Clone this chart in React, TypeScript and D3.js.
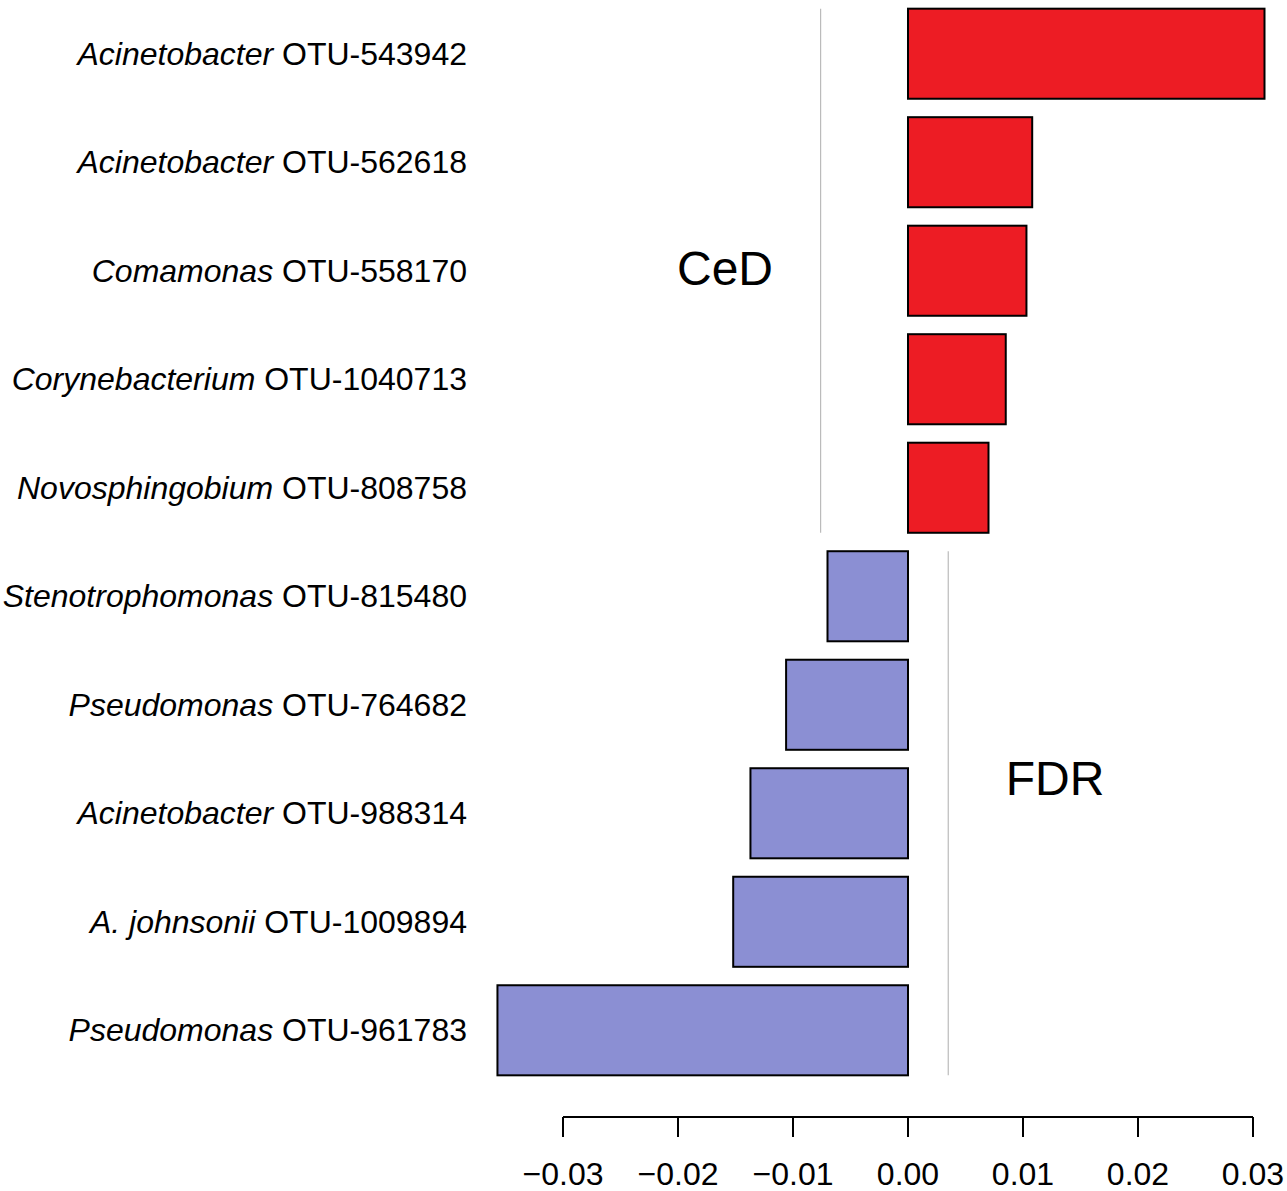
import { useRef, useEffect } from 'react';
import * as d3 from 'd3';

const genus = [
  'Acinetobacter', 'Acinetobacter', 'Comamonas', 'Corynebacterium', 'Novosphingobium',
  'Stenotrophomonas', 'Pseudomonas', 'Acinetobacter', 'A. johnsonii', 'Pseudomonas',
];
const otu = [
  'OTU-543942', 'OTU-562618', 'OTU-558170', 'OTU-1040713', 'OTU-808758',
  'OTU-815480', 'OTU-764682', 'OTU-988314', 'OTU-1009894', 'OTU-961783',
];
const values = [0.0310, 0.0108, 0.0103, 0.0085, 0.0070, -0.0070, -0.0106, -0.0137, -0.0152, -0.0357];
const ticks = [-0.03, -0.02, -0.01, 0, 0.01, 0.02, 0.03];
const cedLine = -0.0076;
const fdrLine = 0.0035;

export default function App() {
  const svgRef = useRef<SVGSVGElement>(null);

  useEffect(() => {
    if (!svgRef.current) return;
    const svg = d3.select(svgRef.current);
    svg.selectAll('*').remove();

    const x = d3.scaleLinear().domain([-0.03, 0.03]).range([563, 1253]);
    const idx = values.map((_, i) => i);
    const y = d3.scaleBand<number>().domain(idx).range([0, 1084]).paddingInner(0.17).paddingOuter(0.08);

    // threshold lines
    const nPos = values.filter((v) => v > 0).length;
    svg.append('line')
      .attr('x1', x(cedLine)).attr('x2', x(cedLine))
      .attr('y1', y(0)!).attr('y2', y(nPos - 1)! + y.bandwidth())
      .attr('stroke', '#bbb').attr('stroke-width', 1.2);
    svg.append('line')
      .attr('x1', x(fdrLine)).attr('x2', x(fdrLine))
      .attr('y1', y(nPos)!).attr('y2', y(values.length - 1)! + y.bandwidth())
      .attr('stroke', '#bbb').attr('stroke-width', 1.2);

    // bars
    svg.append('g').selectAll('rect')
      .data(idx)
      .join('rect')
      .attr('x', (i) => x(Math.min(0, values[i])))
      .attr('y', (i) => y(i)!)
      .attr('width', (i) => Math.abs(x(values[i]) - x(0)))
      .attr('height', y.bandwidth())
      .attr('fill', (i) => (values[i] > 0 ? '#ED1C24' : '#8B8FD3'))
      .attr('stroke', '#000').attr('stroke-width', 2);

    // labels
    const lab = svg.append('g').selectAll('text')
      .data(idx)
      .join('text')
      .attr('x', 467)
      .attr('y', (i) => y(i)! + y.bandwidth() / 2)
      .attr('dy', '0.35em')
      .attr('text-anchor', 'end')
      .style('font-family', 'Liberation Sans, Arial, sans-serif')
      .style('font-size', '32px')
      .attr('fill', '#000');
    lab.append('tspan').style('font-style', 'italic').text((i) => genus[i]);
    lab.append('tspan').text((i) => ' ' + otu[i]);

    // axis
    const axisY = 1117;
    svg.append('line')
      .attr('x1', x(ticks[0])).attr('x2', x(ticks[ticks.length - 1]))
      .attr('y1', axisY).attr('y2', axisY)
      .attr('stroke', '#000').attr('stroke-width', 2);
    svg.append('g').selectAll('line')
      .data(ticks)
      .join('line')
      .attr('x1', (d) => x(d)).attr('x2', (d) => x(d))
      .attr('y1', axisY).attr('y2', axisY + 20)
      .attr('stroke', '#000').attr('stroke-width', 2);
    svg.append('g').selectAll('text')
      .data(ticks)
      .join('text')
      .attr('x', (d) => x(d))
      .attr('y', 1185)
      .attr('text-anchor', 'middle')
      .style('font-family', 'Liberation Sans, Arial, sans-serif')
      .style('font-size', '32px')
      .attr('fill', '#000')
      .text((d) => (d < 0 ? '\u2212' : '') + Math.abs(d).toFixed(2));

    // group labels
    svg.append('text')
      .attr('x', 725).attr('y', 285)
      .attr('text-anchor', 'middle')
      .style('font-family', 'Liberation Sans, Arial, sans-serif')
      .style('font-size', '48px')
      .text('CeD');
    svg.append('text')
      .attr('x', 1055).attr('y', 795)
      .attr('text-anchor', 'middle')
      .style('font-family', 'Liberation Sans, Arial, sans-serif')
      .style('font-size', '48px')
      .text('FDR');
  }, []);

  return (
    <svg ref={svgRef} width={1287} height={1191}
      style={{ position: 'absolute', left: 0, top: 0, background: '#fff' }} />
  );
}
